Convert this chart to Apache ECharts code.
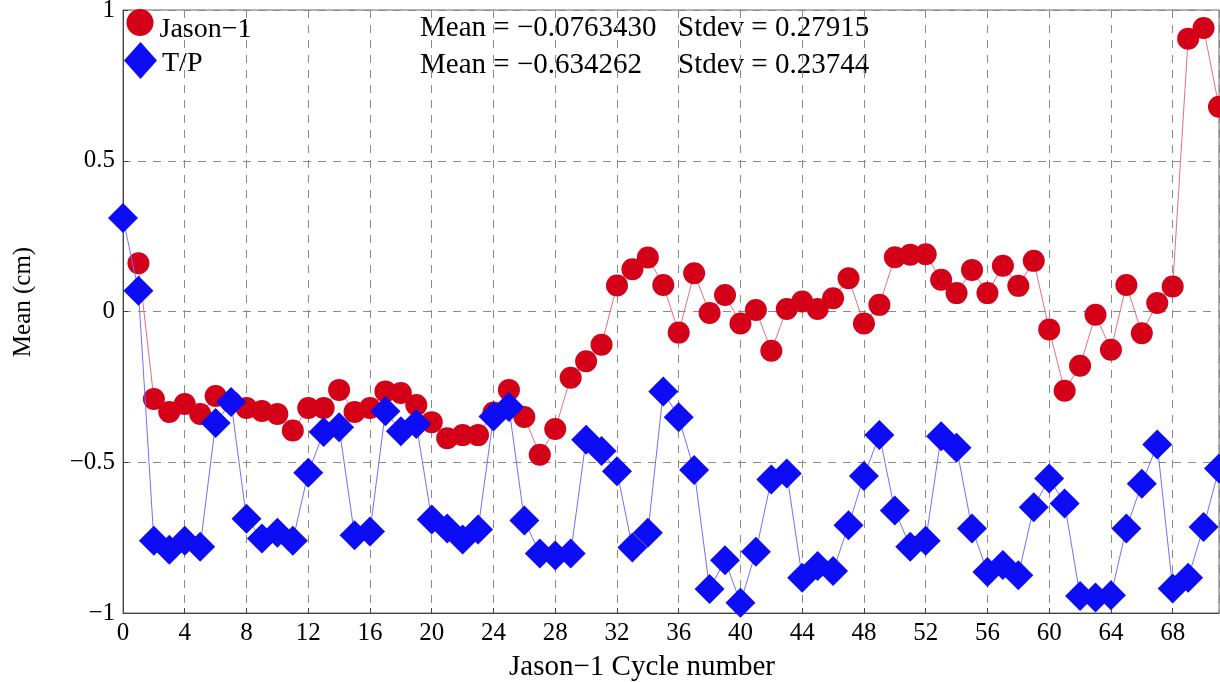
<!DOCTYPE html>
<html>
<head>
<meta charset="utf-8">
<script src="https://cdn.jsdelivr.net/npm/echarts@6/dist/echarts.min.js"></script>
<style>
html,body{margin:0;padding:0;background:#fff;}
#chart{width:1220px;height:682px;}
</style>
</head>
<body>
<div id="chart"></div>
<script>
// Jason-1 cycles 1..71
const jasonCycles = [1,2,3,4,5,6,7,8,9,10,11,12,13,14,15,16,17,18,19,20,21,22,23,24,25,26,27,28,29,30,31,32,33,34,35,36,37,38,39,40,41,42,43,44,45,46,47,48,49,50,51,52,53,54,55,56,57,58,59,60,61,62,63,64,65,66,67,68,69,70,71];
const jasonMean = [0.16,-0.29,-0.333,-0.307,-0.34,-0.28,-0.30,-0.32,-0.33,-0.34,-0.395,-0.32,-0.32,-0.26,-0.333,-0.32,-0.265,-0.27,-0.31,-0.367,-0.42,-0.41,-0.41,-0.335,-0.26,-0.35,-0.475,-0.39,-0.22,-0.165,-0.11,0.086,0.14,0.179,0.088,-0.07,0.127,-0.005,0.055,-0.04,0.005,-0.13,0.008,0.033,0.008,0.044,0.11,-0.04,0.022,0.18,0.188,0.19,0.105,0.061,0.138,0.061,0.152,0.085,0.168,-0.06,-0.263,-0.18,-0.011,-0.127,0.088,-0.072,0.028,0.083,0.905,0.94,0.679];
// T/P cycles 0..71
const tpCycles = [0,1,2,3,4,5,6,7,8,9,10,11,12,13,14,15,16,17,18,19,20,21,22,23,24,25,26,27,28,29,30,31,32,33,34,35,36,37,38,39,40,41,42,43,44,45,46,47,48,49,50,51,52,53,54,55,56,57,58,59,60,61,62,63,64,65,66,67,68,69,70,71];
const tpMean = [0.31,0.069,-0.76,-0.79,-0.76,-0.78,-0.37,-0.30,-0.687,-0.753,-0.734,-0.76,-0.535,-0.40,-0.384,-0.742,-0.73,-0.331,-0.397,-0.373,-0.69,-0.72,-0.756,-0.723,-0.348,-0.317,-0.693,-0.803,-0.809,-0.803,-0.425,-0.463,-0.53,-0.783,-0.734,-0.265,-0.351,-0.526,-0.92,-0.825,-0.966,-0.797,-0.557,-0.537,-0.883,-0.844,-0.861,-0.709,-0.546,-0.41,-0.66,-0.78,-0.76,-0.414,-0.452,-0.72,-0.864,-0.841,-0.875,-0.649,-0.554,-0.637,-0.944,-0.949,-0.941,-0.72,-0.571,-0.441,-0.919,-0.883,-0.715,-0.521];
const seriesNames = ['Jason\u22121', 'T/P'];
const statsMean = ['Mean = \u22120.0763430', 'Mean = \u22120.634262'];
const statsStdev = ['Stdev = 0.27915', 'Stdev = 0.23744'];
const xTitle = 'Jason\u22121 Cycle number';
const yTitle = 'Mean (cm)';

const FONT = '"Liberation Serif", "DejaVu Serif", serif';
const minus = v => String(v).replace('-', '\u2212');
const pairs = (xs, ys) => xs.map((x, i) => [x, ys[i]]);

const chart = echarts.init(document.getElementById('chart'), null, {renderer: 'canvas'});
chart.setOption({
  animation: false,
  backgroundColor: '#fff',
  textStyle: {fontFamily: FONT},
  grid: {left: 123, right: 1, top: 10, bottom: 69, show: true, borderColor: '#666', borderWidth: 1, containLabel: false, outerBoundsMode: 'none'},
  legend: [
    {
      orient: 'vertical', left: 126.5, top: 9, padding: 0, itemWidth: 27, itemHeight: 27,
      formatter: '{t|{name}}',
      textStyle: {fontFamily: FONT, fontSize: 28, color: '#000',
        rich: {t: {fontFamily: FONT, fontSize: 28, color: '#000', padding: [14, 0, 0, 1]}}},
      data: [{name: seriesNames[0], icon: 'circle'}]
    },
    {
      orient: 'vertical', left: 124, top: 42, padding: 0, itemWidth: 33, itemHeight: 37,
      formatter: '{t|{name}}',
      textStyle: {fontFamily: FONT, fontSize: 28, color: '#000',
        rich: {t: {fontFamily: FONT, fontSize: 28, color: '#000', padding: [6, 0, 0, 0]}}},
      data: [{name: seriesNames[1], icon: 'diamond'}]
    }
  ],
  graphic: [
    {type: 'text', left: 420, top: 14, style: {text: statsMean[0], font: '29px ' + FONT, fill: '#000'}},
    {type: 'text', left: 678, top: 14, style: {text: statsStdev[0], font: '29px ' + FONT, fill: '#000'}},
    {type: 'text', left: 420, top: 51, style: {text: statsMean[1], font: '29px ' + FONT, fill: '#000'}},
    {type: 'text', left: 678, top: 51, style: {text: statsStdev[1], font: '29px ' + FONT, fill: '#000'}}
  ],
  xAxis: {
    type: 'value', min: 0, max: 71, interval: 4,
    name: xTitle, nameLocation: 'middle', nameGap: 40,
    nameTextStyle: {fontFamily: FONT, fontSize: 29, color: '#000', padding: [0, 58, 0, 0]},
    axisLine: {show: true, onZero: false, lineStyle: {color: '#444', width: 1}},
    axisTick: {show: true, inside: true, length: 5, lineStyle: {color: '#444'}},
    axisLabel: {fontFamily: FONT, fontSize: 25, color: '#000', margin: 8, showMaxLabel: false},
    splitLine: {show: true, lineStyle: {color: '#8a8a8a', type: [8, 7], width: 1}}
  },
  yAxis: {
    type: 'value', min: -1, max: 1, interval: 0.5,
    name: yTitle, nameLocation: 'middle', nameGap: 87, nameRotate: 90,
    nameTextStyle: {fontFamily: FONT, fontSize: 25, color: '#000', padding: [0, 0, 0, 19]},
    axisLine: {show: true, onZero: false, lineStyle: {color: '#444', width: 1}},
    axisTick: {show: true, inside: true, length: 5, lineStyle: {color: '#444'}},
    axisLabel: {fontFamily: FONT, fontSize: 25, color: '#000', margin: 8, formatter: v => minus(v)},
    splitLine: {show: true, lineStyle: {color: '#8a8a8a', type: [8, 7], width: 1}}
  },
  series: [
    {
      name: seriesNames[0], type: 'line', data: pairs(jasonCycles, jasonMean),
      symbol: 'circle', symbolSize: 22, showAllSymbol: true, clip: true,
      itemStyle: {color: '#d40018'}, lineStyle: {color: '#e8707a', width: 1}, z: 2
    },
    {
      name: seriesNames[1], type: 'line', data: pairs(tpCycles, tpMean),
      symbol: 'diamond', symbolSize: 30, showAllSymbol: true, clip: true,
      itemStyle: {color: '#0c0cf5'}, lineStyle: {color: '#7070ff', width: 1}, z: 3
    }
  ]
});
</script>
</body>
</html>
